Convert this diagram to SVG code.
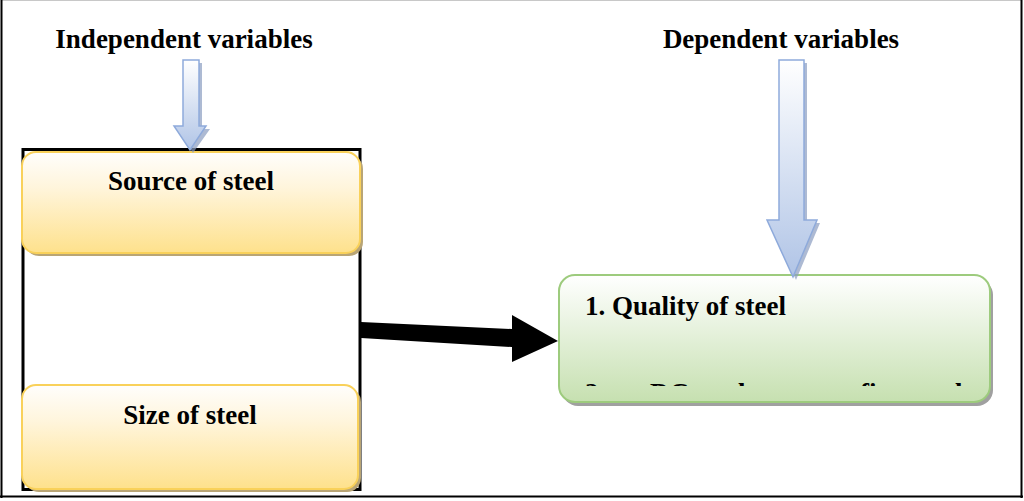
<svg xmlns="http://www.w3.org/2000/svg" width="1024" height="501" viewBox="0 0 1024 501">
<style>
.t{font-family:"Liberation Serif","Times New Roman",serif;font-weight:bold;font-size:27px;fill:#000}
.ybox{fill:url(#gy);stroke:#f9d15a;stroke-width:2}
.yshadow{fill:#b9a575}
.gshadow{fill:#a0a0a0}
.barrow{fill:url(#gb);stroke:#8eaadb;stroke-width:1.5}
.bshadow{fill:#8a9cc0;opacity:0.7}
</style>
<defs>
<linearGradient id="gy" x1="0" y1="0" x2="0" y2="1">
<stop offset="0" stop-color="#fffefc"/>
<stop offset="0.35" stop-color="#fff5dc"/>
<stop offset="1" stop-color="#fee18c"/>
</linearGradient>
<linearGradient id="gg" x1="0" y1="0" x2="0" y2="1">
<stop offset="0" stop-color="#ffffff"/>
<stop offset="1" stop-color="#c6e0b0"/>
</linearGradient>
<linearGradient id="gb" x1="0" y1="0" x2="0" y2="1">
<stop offset="0" stop-color="#ffffff"/>
<stop offset="1" stop-color="#b0c4e6"/>
</linearGradient>
<clipPath id="clipG">
<rect x="560" y="360" width="430" height="26"/>
</clipPath>
</defs>

<rect x="0" y="0" width="1024" height="501" fill="#ffffff"/>
<g id="frame" fill="none">
<line x1="1" y1="0.5" x2="1022" y2="0.5" stroke="#c8c8c8" stroke-width="1"/>
<line x1="1.5" y1="0" x2="1.5" y2="498" stroke="#000" stroke-width="2"/>
<line x1="1021.5" y1="0" x2="1021.5" y2="498" stroke="#000" stroke-width="2"/>
<line x1="0" y1="496.5" x2="1023" y2="496.5" stroke="#000" stroke-width="2"/>
</g>

<g id="label-independent">
<text class="t" x="184" y="48" text-anchor="middle">Independent variables</text>
</g>
<g id="label-dependent">
<text class="t" x="781" y="48" text-anchor="middle">Dependent variables</text>
</g>

<g id="container">
<rect x="23" y="149.5" width="337" height="340" fill="none" stroke="#000" stroke-width="3"/>
</g>

<g id="node-source">
<rect class="yshadow" x="25" y="155" width="338" height="101" rx="14"/>
<rect class="ybox" x="22" y="152" width="338" height="101" rx="14"/>
<text class="t" x="191" y="190" text-anchor="middle">Source of steel</text>
</g>

<g id="node-size">
<rect class="yshadow" x="25" y="388" width="336" height="104" rx="14"/>
<rect class="ybox" x="22" y="385" width="336" height="104" rx="14"/>
<text class="t" x="190" y="424" text-anchor="middle">Size of steel</text>
</g>

<g id="node-quality">
<rect class="gshadow" x="562" y="279" width="431" height="127" rx="16"/>
<rect x="559" y="275" width="431" height="127" rx="16" fill="url(#gg)" stroke="#9dcb7d" stroke-width="2"/>
<text class="t" x="585" y="315">1. Quality of steel</text>
<g clip-path="url(#clipG)">
<text class="t" y="402"><tspan x="585">2.</tspan><tspan x="650">DC</tspan><tspan x="738">l</tspan><tspan x="860">fi</tspan><tspan x="955">l</tspan></text>
</g>
</g>

<g id="connectors">
<path class="bshadow" d="M186,63 H202 V129 H210 L193,153 L177,129 H186 Z"/>
<path class="barrow" d="M183,60 H199 V126 H206 L190,150 L174,126 H183 Z"/>
<path class="bshadow" d="M782,63 H807 V223 H820 L796,280 L770,223 H782 Z"/>
<path class="barrow" d="M779,60 H804 V220 H817 L793,277 L767,220 H779 Z"/>
<path d="M361,322 L512,329 L512,315 L558,341 L512,362 L512,347 L361,338 Z" fill="#000"/>
</g>
</svg>
